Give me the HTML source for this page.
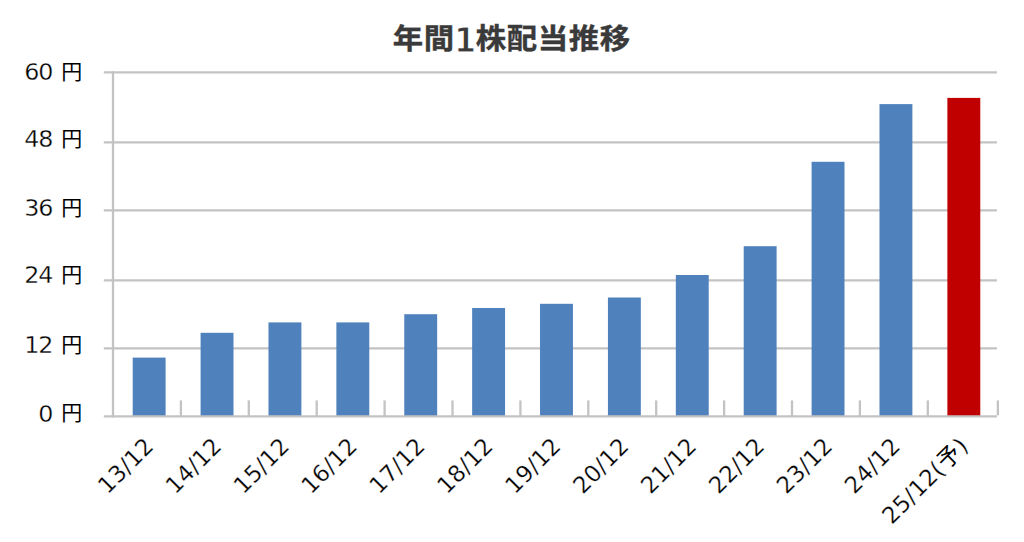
<!DOCTYPE html>
<html lang="ja">
<head>
<meta charset="utf-8">
<title>年間1株配当推移</title>
<style>
html,body{margin:0;padding:0;background:#fff;}
body{width:1024px;height:542px;overflow:hidden;}
svg{display:block;}
.t{font-family:"DejaVu Sans","Noto Sans CJK JP",sans-serif;font-weight:bold;font-size:30.4px;fill:#3a3a3a;stroke:#3a3a3a;stroke-width:0.4px;}
.t1{font-family:"DejaVu Sans Condensed","DejaVu Sans",sans-serif;font-size:35.4px;stroke:#fff;stroke-width:1.2px;}
.y{font-family:"DejaVu Sans","Noto Sans CJK JP",sans-serif;font-size:23.8px;fill:#000;letter-spacing:-1.1px;white-space:pre;stroke:#fff;stroke-width:0.35px;}
.ky{font-family:"Noto Sans CJK JP",sans-serif;font-size:21px;fill:#000;}
.x{font-family:"DejaVu Sans","Noto Sans CJK JP",sans-serif;font-size:23px;fill:#000;letter-spacing:0.2px;stroke:#fff;stroke-width:0.25px;}
.k{font-family:"Noto Sans CJK JP",sans-serif;letter-spacing:0;stroke:none;}
</style>
</head>
<body>
<svg width="1024" height="542" viewBox="0 0 1024 542">
<rect x="0" y="0" width="1024" height="542" fill="#ffffff"/>
<text class="t" transform="translate(0 48.65) scale(1 0.945)" x="392.8 423.75 453.9 475.7 506.7 537.7 568.7 599.7" y="0 0 3.2 0 0 0 0 0">年間<tspan class="t1">1</tspan>株配当推移</text>
<g stroke="#c3c3c3" stroke-width="2.3" fill="none">
<line x1="103.8" y1="72.4" x2="996.9" y2="72.4"/>
<line x1="103.8" y1="142.4" x2="996.9" y2="142.4"/>
<line x1="103.8" y1="210.3" x2="996.9" y2="210.3"/>
<line x1="103.8" y1="280.35" x2="996.9" y2="280.35"/>
<line x1="103.8" y1="348.35" x2="996.9" y2="348.35"/>
</g>
<g fill="#4f81bd">
<rect x="132.70" y="357.6" width="32.9" height="58.40"/>
<rect x="200.59" y="332.8" width="32.9" height="83.20"/>
<rect x="268.48" y="322.4" width="32.9" height="93.60"/>
<rect x="336.37" y="322.4" width="32.9" height="93.60"/>
<rect x="404.26" y="314.2" width="32.9" height="101.80"/>
<rect x="472.15" y="308.0" width="32.9" height="108.00"/>
<rect x="540.04" y="303.8" width="32.9" height="112.20"/>
<rect x="607.93" y="297.5" width="32.9" height="118.50"/>
<rect x="675.82" y="275.0" width="32.9" height="141.00"/>
<rect x="743.71" y="246.2" width="32.9" height="169.80"/>
<rect x="811.60" y="161.8" width="32.9" height="254.20"/>
<rect x="879.49" y="104.1" width="32.9" height="311.90"/>
<rect x="947.38" y="97.9" width="32.9" height="318.10" fill="#c00000"/>
</g>
<g stroke="#c3c3c3" stroke-width="2.3" fill="none">
<line x1="113.0" y1="71.25" x2="113.0" y2="417.4"/>
<line x1="103.8" y1="416.4" x2="996.9" y2="416.4"/>
<line x1="180.90" y1="400.4" x2="180.90" y2="416.4"/>
<line x1="248.80" y1="400.4" x2="248.80" y2="416.4"/>
<line x1="316.70" y1="400.4" x2="316.70" y2="416.4"/>
<line x1="384.60" y1="400.4" x2="384.60" y2="416.4"/>
<line x1="452.50" y1="400.4" x2="452.50" y2="416.4"/>
<line x1="520.40" y1="400.4" x2="520.40" y2="416.4"/>
<line x1="588.30" y1="400.4" x2="588.30" y2="416.4"/>
<line x1="656.20" y1="400.4" x2="656.20" y2="416.4"/>
<line x1="724.10" y1="400.4" x2="724.10" y2="416.4"/>
<line x1="792.00" y1="400.4" x2="792.00" y2="416.4"/>
<line x1="859.90" y1="400.4" x2="859.90" y2="416.4"/>
<line x1="927.80" y1="400.4" x2="927.80" y2="416.4"/>
<line x1="997.85" y1="400.4" x2="997.85" y2="415.3"/>
</g>
<text><tspan class="y" x="58.7" y="79.85" text-anchor="end">60 </tspan><tspan class="ky" x="61.2" y="78.90">円</tspan></text>
<text><tspan class="y" x="58.7" y="147.25" text-anchor="end">48 </tspan><tspan class="ky" x="61.2" y="146.00">円</tspan></text>
<text><tspan class="y" x="58.7" y="215.65" text-anchor="end">36 </tspan><tspan class="ky" x="61.2" y="214.60">円</tspan></text>
<text><tspan class="y" x="58.7" y="283.05" text-anchor="end">24 </tspan><tspan class="ky" x="61.2" y="282.20">円</tspan></text>
<text><tspan class="y" x="58.7" y="352.95" text-anchor="end">12 </tspan><tspan class="ky" x="61.2" y="352.00">円</tspan></text>
<text><tspan class="y" x="58.7" y="421.75" text-anchor="end">0 </tspan><tspan class="ky" x="61.2" y="420.40">円</tspan></text>
<text class="x" text-anchor="end" transform="translate(155.00 447.4) rotate(-45)">13/12</text>
<text class="x" text-anchor="end" transform="translate(222.89 447.4) rotate(-45)">14/12</text>
<text class="x" text-anchor="end" transform="translate(290.78 447.4) rotate(-45)">15/12</text>
<text class="x" text-anchor="end" transform="translate(358.67 447.4) rotate(-45)">16/12</text>
<text class="x" text-anchor="end" transform="translate(426.56 447.4) rotate(-45)">17/12</text>
<text class="x" text-anchor="end" transform="translate(494.45 447.4) rotate(-45)">18/12</text>
<text class="x" text-anchor="end" transform="translate(562.34 447.4) rotate(-45)">19/12</text>
<text class="x" text-anchor="end" transform="translate(630.23 447.4) rotate(-45)">20/12</text>
<text class="x" text-anchor="end" transform="translate(698.12 447.4) rotate(-45)">21/12</text>
<text class="x" text-anchor="end" transform="translate(766.01 447.4) rotate(-45)">22/12</text>
<text class="x" text-anchor="end" transform="translate(833.90 447.4) rotate(-45)">23/12</text>
<text class="x" text-anchor="end" transform="translate(901.79 447.4) rotate(-45)">24/12</text>
<text class="x" text-anchor="end" transform="translate(969.68 447.4) rotate(-45)">25/12(<tspan class="k" dx="0.7">予</tspan><tspan dx="0.7">)</tspan></text>
</svg>
</body>
</html>
